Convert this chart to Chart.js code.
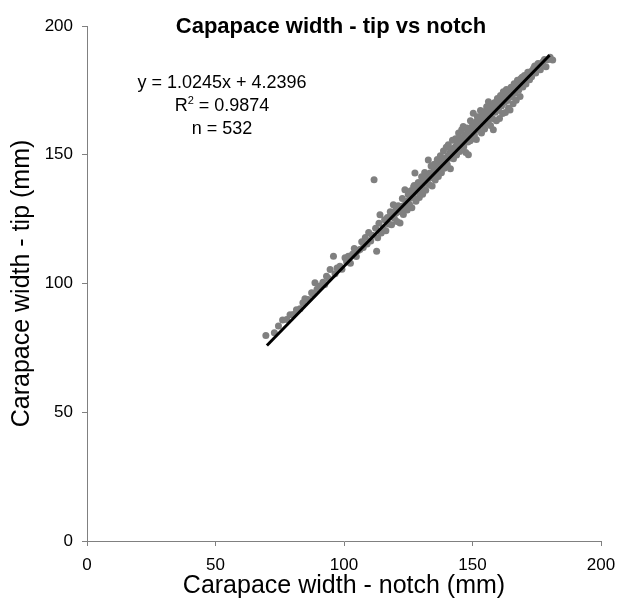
<!DOCTYPE html>
<html>
<head>
<meta charset="utf-8">
<title>Capapace width - tip vs notch</title>
<script src="https://cdn.jsdelivr.net/npm/chart.js@4.4.1/dist/chart.umd.min.js"></script>
<style>
    body { margin: 0; background: #ffffff; }
    #box { width: 619px; height: 604px; position: relative; }
</style>
</head>
<body>
<div id="box"><canvas id="grafico" width="619" height="604"></canvas></div>
<script>
// carapace width (mm), notch vs tip
var larguraNotch = [
    69.6, 72.9, 74.5, 76.1, 77.7, 79.0, 80.3, 81.5, 82.9, 84.0,
    84.8, 86.0, 87.4, 88.0, 88.7, 89.5, 90.7, 91.8, 92.5, 93.2,
    94.0, 94.6, 95.9, 96.5, 97.3, 98.4, 99.2, 100.4, 101.0, 101.7,
    102.5, 103.3, 104.0, 104.8, 105.5, 106.2, 106.9, 107.5, 108.3, 109.0,
    109.6, 110.4, 111.0, 111.7, 112.3, 112.7, 113.1, 113.6, 114.0, 114.5,
    115.2, 115.8, 116.3, 116.9, 117.4, 118.0, 118.5, 119.2, 119.6, 120.1,
    120.6, 121.1, 121.8, 122.2, 122.7, 123.1, 123.7, 124.1, 124.6, 125.0,
    125.5, 126.0, 126.4, 126.9, 127.3, 127.6, 128.0, 128.5, 128.9, 129.3,
    129.8, 130.2, 130.6, 131.0, 131.4, 131.8, 132.2, 132.8, 133.1, 133.5,
    133.9, 134.3, 134.7, 135.1, 135.5, 135.9, 136.3, 136.7, 137.1, 137.5,
    137.9, 138.3, 138.7, 139.0, 139.4, 139.8, 140.2, 140.6, 141.0, 141.4,
    141.8, 142.2, 142.6, 143.0, 143.4, 143.8, 144.2, 144.6, 145.0, 145.4,
    145.8, 146.4, 146.6, 147.0, 147.4, 147.8, 148.2, 148.4, 148.8, 149.2,
    149.6, 150.0, 150.3, 150.7, 151.1, 151.5, 151.9, 152.3, 152.7, 153.1,
    153.5, 153.9, 154.3, 154.7, 155.1, 155.5, 155.9, 156.2, 156.6, 157.0,
    157.4, 157.8, 158.1, 158.5, 158.9, 159.3, 159.7, 160.1, 160.5, 160.9,
    161.3, 161.7, 162.0, 162.4, 162.8, 163.2, 163.6, 164.0, 164.6, 165.0,
    165.4, 165.8, 166.2, 166.6, 167.0, 167.5, 168.0, 168.5, 169.1, 169.6,
    170.2, 170.8, 171.5, 172.2, 173.0, 173.8, 174.6, 175.5, 176.4, 177.5,
    178.6, 180.2, 181.2,
    118.8, 120.4, 121.5, 122.9, 123.4, 124.8, 125.8, 126.6, 127.9, 129.0,
    129.5, 130.4, 131.2, 131.6, 132.5, 133.3, 134.0, 134.9, 135.3, 136.1,
    136.9, 137.3, 138.1, 138.5, 139.2, 139.6, 140.4, 140.8, 141.2, 141.6,
    142.4, 142.8, 143.2, 143.6, 144.0, 144.4, 144.8, 145.2, 145.6, 146.0,
    146.8, 147.2, 147.6, 148.0, 148.6, 149.0, 149.4, 149.8, 150.5, 150.9,
    151.3, 151.7, 152.1, 152.5, 152.9, 153.3, 153.7, 154.1, 154.5, 154.9,
    155.3, 155.7, 156.4, 156.8, 157.2, 157.6, 158.3, 158.7, 159.1, 159.5,
    159.9, 160.3, 160.7, 161.1, 161.5, 161.9, 162.6, 163.0, 163.4, 163.8,
    164.3, 164.8, 165.2, 165.6, 166.0, 166.4, 166.8, 167.2, 167.8, 168.2,
    168.8, 169.3, 170.5, 171.1, 171.8, 172.6, 173.4, 174.2, 175.0, 176.0,
    177.0, 178.0, 179.3,
    127.1, 130.9, 134.4, 137.7, 141.9, 145.9, 149.1, 152.8, 156.0, 159.8,
    163.9, 146.2, 150.6, 139.7, 143.7, 155.6, 161.4, 136.5, 132.3, 148.9
];
var larguraTip = [
    79.8, 80.9, 83.5, 85.8, 86.0, 87.9, 88.0, 89.8, 90.2, 92.5,
    94.1, 93.8, 96.4, 95.7, 100.3, 97.8, 99.0, 100.5, 99.6, 102.8,
    101.9, 105.4, 110.6, 103.8, 106.0, 106.7, 105.5, 110.0, 108.4, 110.6,
    107.9, 111.4, 113.6, 110.5, 112.8, 113.2, 116.2, 114.0, 117.9, 115.3,
    119.8, 116.5, 118.7, 140.3, 121.5, 112.5, 117.8, 123.4, 126.7, 119.6,
    121.4, 124.8, 120.5, 125.6, 123.1, 127.9, 122.8, 130.6, 125.3, 128.4,
    124.1, 130.2, 123.5, 128.9, 133.0, 126.8, 136.4, 131.2, 128.5, 134.6,
    130.7, 136.0, 129.4, 133.8, 138.1, 142.9, 131.9, 135.7, 139.2, 133.4,
    137.9, 141.5, 134.7, 138.8, 143.1, 136.2, 140.6, 148.0, 138.4, 142.9,
    145.6, 137.9, 141.8, 146.3, 140.2, 144.1, 148.2, 141.6, 145.4, 149.6,
    143.0, 147.3, 151.5, 144.8, 148.6, 152.9, 146.1, 153.9, 149.8, 144.6,
    152.1, 155.6, 148.4, 151.7, 156.2, 149.9, 153.6, 158.4, 151.3, 155.8,
    159.7, 161.0, 153.1, 157.2, 150.9, 160.4, 155.0, 150.0, 158.9, 163.2,
    156.1, 160.2, 166.1, 157.5, 162.4, 155.9, 164.8, 159.6, 163.7, 167.2,
    158.4, 161.9, 166.4, 160.0, 164.5, 168.6, 162.2, 170.6, 165.9, 161.4,
    168.3, 164.1, 159.7, 170.2, 166.5, 163.2, 171.8, 167.4, 164.1, 173.0,
    168.9, 166.0, 174.5, 170.3, 166.4, 175.3, 171.1, 168.2, 167.4, 176.2,
    172.5, 169.8, 177.6, 174.0, 171.2, 178.9, 175.1, 172.6, 178.4, 176.3,
    180.8, 177.5, 182.0, 179.1, 180.3, 183.6, 181.7, 185.4, 183.0, 186.2,
    184.2, 187.9, 186.8,
    126.0, 127.5, 128.0, 130.1, 129.6, 132.0, 133.2, 134.5, 135.8, 136.6,
    136.0, 138.2, 139.9, 139.0, 141.3, 141.0, 142.2, 143.6, 142.9, 144.8,
    144.0, 146.5, 145.9, 147.1, 148.0, 147.2, 149.4, 148.6, 150.8, 149.5,
    151.0, 152.6, 151.8, 153.4, 152.2, 155.0, 154.1, 153.9, 156.6, 155.4,
    156.5, 157.8, 156.9, 158.2, 157.6, 159.9, 158.8, 161.0, 160.6, 162.0,
    161.3, 163.0, 162.2, 164.4, 163.1, 165.0, 164.3, 165.5, 164.9, 166.8,
    165.7, 167.3, 166.9, 168.5, 167.6, 169.4, 168.0, 169.9, 169.0, 170.8,
    169.7, 171.6, 170.2, 172.3, 171.4, 173.2, 172.8, 173.9, 172.4, 174.6,
    174.0, 173.2, 175.1, 174.4, 175.9, 175.2, 176.8, 176.0, 177.4, 176.5,
    179.5, 180.1, 179.2, 180.6, 181.4, 182.2, 182.8, 184.5, 184.1, 185.2,
    184.9, 187.0, 186.9,
    137.5, 139.6, 142.0, 146.4, 149.3, 154.8, 155.4, 161.7, 162.9, 167.9,
    174.0, 154.3, 158.1, 147.9, 152.9, 162.6, 171.2, 143.3, 141.0, 157.3
];
// trend line ends (y = 1.0245x + 4.2396)
var tendenciaX = [70, 180];
var tendenciaY = [75.95, 188.65];
var ticksEixo = [0, 50, 100, 150, 200];
var titulo = "Capapace width - tip vs notch";
var textoEquacao = "y = 1.0245x + 4.2396";
var textoR2 = ["R", "2", " = 0.9874"];
var textoN = "n = 532";

window.onload = function () {
    carregarGrafico();
};

function montarPontos(xs, ys) {
    var pontos = [];
    for (var i = 0; i < xs.length; i++) {
        pontos.push({x: xs[i], y: ys[i]});
    }
    return pontos;
}

// title + equation text, drawn inside the plot like the excel chart
var textosPlugin = {
    id: 'textos',
    afterDraw: function (chart) {
        var ctx = chart.ctx;
        var fam = '"Liberation Sans", Arial, sans-serif';
        ctx.save();
        ctx.fillStyle = '#000000';
        ctx.textBaseline = 'middle';
        ctx.textAlign = 'center';
        ctx.font = 'bold 22px ' + fam;
        ctx.fillText(titulo, 331, 27);

        ctx.font = '18px ' + fam;
        ctx.fillText(textoEquacao, 222, 83);
        ctx.fillText(textoN, 222, 129);

        // R² with superscript
        ctx.textAlign = 'left';
        var w1 = ctx.measureText(textoR2[0]).width;
        var w3 = ctx.measureText(textoR2[2]).width;
        ctx.font = '11px ' + fam;
        var w2 = ctx.measureText(textoR2[1]).width;
        var x0 = 222 - (w1 + w2 + w3) / 2;
        ctx.font = '18px ' + fam;
        ctx.fillText(textoR2[0], x0, 106);
        ctx.fillText(textoR2[2], x0 + w1 + w2, 106);
        ctx.font = '11px ' + fam;
        ctx.fillText(textoR2[1], x0 + w1, 101);
        ctx.restore();
    }
};

function carregarGrafico() {
    var ctx = document.getElementById("grafico");
    var fonteTick = {family: '"Liberation Sans", Arial, sans-serif', size: 17};
    var fonteTitulo = {family: '"Liberation Sans", Arial, sans-serif', size: 25};
    new Chart(ctx, {
        type: 'scatter',
        data: {
            datasets: [{
                    type: 'line',
                    data: montarPontos(tendenciaX, tendenciaY),
                    borderColor: '#000000',
                    borderWidth: 3,
                    pointRadius: 0,
                    fill: false
                }, {
                    data: montarPontos(larguraNotch, larguraTip),
                    backgroundColor: '#808080',
                    borderWidth: 0,
                    pointRadius: 3.5,
                    pointHoverRadius: 3.5
                }]
        },
        options: {
            responsive: false,
            animation: false,
            layout: {padding: {top: 26, right: 18, left: 0, bottom: 0}},
            plugins: {legend: {display: false}, tooltip: {enabled: false}},
            scales: {
                x: {
                    type: 'linear', min: 0, max: 200,
                    afterBuildTicks: function (s) { s.ticks = ticksEixo.map(function (v) { return {value: v}; }); },
                    afterFit: function (s) {
                        s.height = 63;
                        s.paddingLeft = 0;
                        s.paddingRight = 0;
                    },
                    ticks: {color: '#000000', font: fonteTick, padding: 9, autoSkip: false, maxRotation: 0},
                    grid: {display: true, drawOnChartArea: false, drawTicks: true, tickLength: 5, color: '#808080'},
                    border: {display: true, color: '#808080', width: 1},
                    title: {display: true, text: 'Carapace width - notch (mm)', color: '#000000', font: fonteTitulo, padding: {top: 0, bottom: 3}}
                },
                y: {
                    type: 'linear', min: 0, max: 200,
                    afterBuildTicks: function (s) { s.ticks = ticksEixo.map(function (v) { return {value: v}; }); },
                    afterFit: function (s) {
                        s.width = 87;
                        s.paddingTop = 0;
                        s.paddingBottom = 0;
                    },
                    ticks: {color: '#000000', font: fonteTick, padding: 9, autoSkip: false},
                    grid: {display: true, drawOnChartArea: false, drawTicks: true, tickLength: 5, color: '#808080'},
                    border: {display: true, color: '#808080', width: 1},
                    title: {display: true, text: 'Carapace width - tip (mm)', color: '#000000', font: fonteTitulo, padding: {top: 7, bottom: 0}}
                }
            }
        },
        plugins: [textosPlugin]
    });
}
</script>
</body>
</html>
